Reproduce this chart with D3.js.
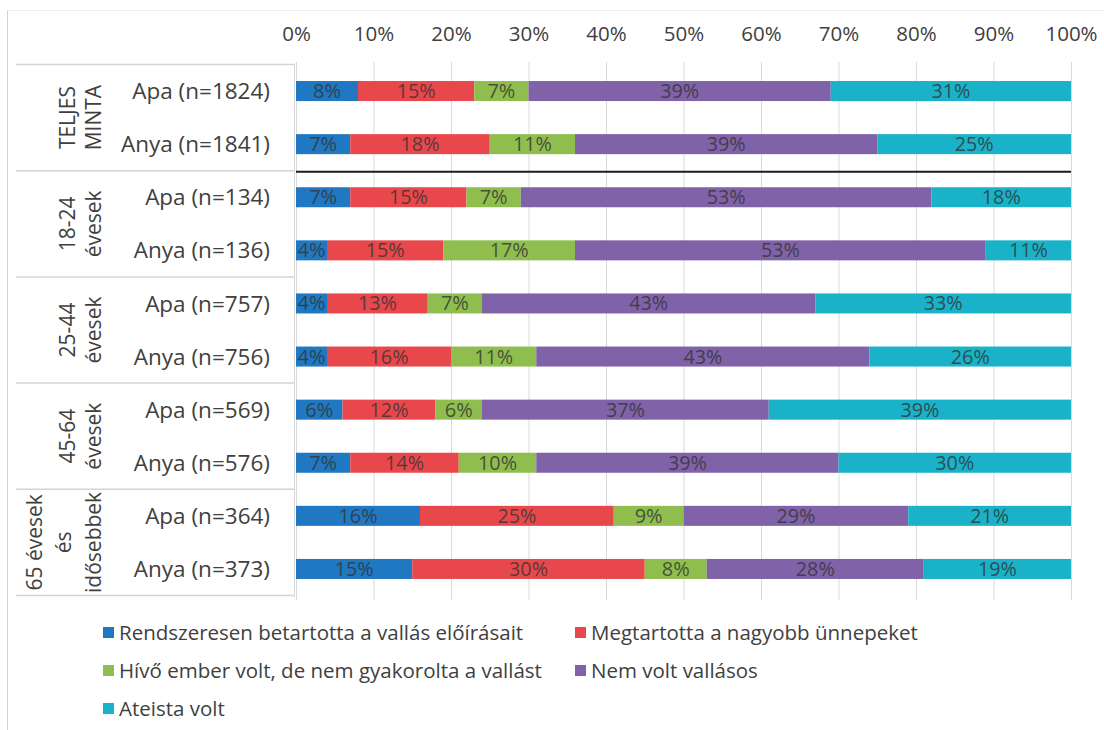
<!DOCTYPE html>
<html><head><meta charset="utf-8">
<script src="https://cdn.jsdelivr.net/npm/d3@7"></script>
<style>body{margin:0;background:#fff}svg{display:block}</style>
</head><body>
<script>
const rows = ["Apa (n=1824)","Anya (n=1841)","Apa (n=134)","Anya (n=136)","Apa (n=757)","Anya (n=756)","Apa (n=569)","Anya (n=576)","Apa (n=364)","Anya (n=373)"];
const groups = [["TELJES","MINTA"],["18-24","évesek"],["25-44","évesek"],["45-64","évesek"],["65 évesek","és","idősebbek"]];
const series = ["Rendszeresen betartotta a vallás előírásait","Megtartotta a nagyobb ünnepeket","Hívő ember volt, de nem gyakorolta a vallást","Nem volt vallásos","Ateista volt"];
const colors = ["#1f78c1","#e8484b","#8fbe4f","#7f62a8","#19b2c8"];
const rendszeresen = [8,7,7,4,4,4,6,7,16,15];
const megtartotta = [15,18,15,15,13,16,12,14,25,30];
const hivo = [7,11,7,17,7,11,6,10,9,8];
const nemVallasos = [39,39,53,53,43,43,37,39,29,28];
const ateista = [31,25,18,11,33,26,39,30,21,19];
const ticks = [0,10,20,30,40,50,60,70,80,90,100];

const values = [rendszeresen, megtartotta, hivo, nemVallasos, ateista];
const data = rows.map((r,i)=>{const o={row:r}; series.forEach((s,j)=>o[s]=values[j][i]); return o;});
const stack = d3.stack().keys(series)(data);

const W=1104,H=730;
const svg = d3.select("body").append("svg").attr("width",W).attr("height",H);
const font = "'Open Sans', sans-serif";
const x = d3.scaleLinear().domain([0,100]).range([296,1071]);
const y = d3.scaleBand().domain(rows).range([64.5,595.5]).paddingInner(0.623).paddingOuter(0.3115);
const step = y.step();

// outer frame lines
svg.append("line").attr("x1",7.5).attr("x2",7.5).attr("y1",10).attr("y2",H).attr("stroke","#d0d0d0");
svg.append("line").attr("x1",7.5).attr("x2",W).attr("y1",10.5).attr("y2",10.5).attr("stroke","#eeeeee");

// gridlines
svg.append("g").selectAll("line").data(ticks).join("line")
  .attr("x1",d=>x(d)+0.5).attr("x2",d=>x(d)+0.5).attr("y1",62).attr("y2",600)
  .attr("stroke","#d9d9d9").attr("stroke-width",1);

// x axis labels
const xa = svg.append("g").attr("transform","translate(0,41)")
  .call(d3.axisTop(x).tickValues(ticks).tickFormat(d=>d+"%").tickSize(0).tickPadding(0));
xa.select(".domain").remove();
xa.selectAll("text").attr("font-family",font).attr("font-size",20.5).attr("fill","#404040").attr("dy","0");

// table lines
const groupBounds = [0,2,4,6,8,10];
const boundY = d => d<10 ? y(rows[d]) - y.paddingOuter()*step : y(rows[9]) + y.bandwidth() + y.paddingOuter()*step;
svg.append("g").selectAll("line").data(groupBounds).join("line")
  .attr("x1",16).attr("x2",295)
  .attr("y1",boundY).attr("y2",boundY)
  .attr("stroke","#d4d4d4").attr("stroke-width",1.5);
svg.append("line").attr("x1",294.5).attr("x2",294.5).attr("y1",64.5).attr("y2",597).attr("stroke","#d8d8d8");

// black separator
svg.append("line").attr("x1",x(0)).attr("x2",x(100))
  .attr("y1",boundY(2) + 1).attr("y2",boundY(2) + 1)
  .attr("stroke","#1a1a1a").attr("stroke-width",2);

// bars
const layer = svg.append("g").selectAll("g").data(stack).join("g").attr("fill",(d,i)=>colors[i]);
layer.selectAll("rect").data(d=>d).join("rect")
  .attr("x",d=>x(d[0])).attr("width",d=>x(d[1])-x(d[0]))
  .attr("y",d=>y(d.data.row)).attr("height",y.bandwidth());

// data labels
const lab = svg.append("g").selectAll("g").data(stack).join("g");
lab.selectAll("text").data(d=>d).join("text")
  .attr("x",d=>(x(d[0])+x(d[1]))/2).attr("y",d=>y(d.data.row)+y.bandwidth()/2)
  .attr("dy","0.36em").attr("text-anchor","middle")
  .attr("font-family",font).attr("font-size",19.5).attr("fill","#333333").attr("fill-opacity",0.8)
  .attr("textLength",d=>String(d[1]-d[0]).length===1?28:39).attr("lengthAdjust","spacingAndGlyphs")
  .text(d=>(d[1]-d[0])+"%");

// row labels
svg.append("g").selectAll("text").data(rows).join("text")
  .attr("x",270).attr("y",d=>y(d)+y.bandwidth()/2).attr("dy","0.36em").attr("text-anchor","end")
  .attr("font-family",font).attr("font-size",22.5).attr("fill","#404040").text(d=>d);

// group labels
const gxs = {2:[67,93],3:[34,63,93]};
groups.forEach((g,i)=>{
  const cy = boundY(2*i) + step;
  const xs = gxs[g.length];
  g.forEach((t,k)=>{
    svg.append("text").attr("transform",`translate(${xs[k]},${cy}) rotate(-90)`)
      .attr("text-anchor","middle").attr("dy","0.36em")
      .attr("font-family",font).attr("font-size",21).attr("fill","#404040").text(t);
  });
});

// legend
const legPos = [[103,633],[575,633],[103,671],[575,671],[103,709]];
const leg = svg.append("g").selectAll("g").data(series).join("g")
  .attr("transform",(d,i)=>`translate(${legPos[i][0]},${legPos[i][1]})`);
leg.append("rect").attr("x",0).attr("y",-6).attr("width",11).attr("height",11).attr("fill",(d,i)=>colors[i]);
leg.append("text").attr("x",16).attr("y",0).attr("dy","0.36em")
  .attr("font-family",font).attr("font-size",20.5).attr("fill","#404040").text(d=>d);
</script>
</body></html>
